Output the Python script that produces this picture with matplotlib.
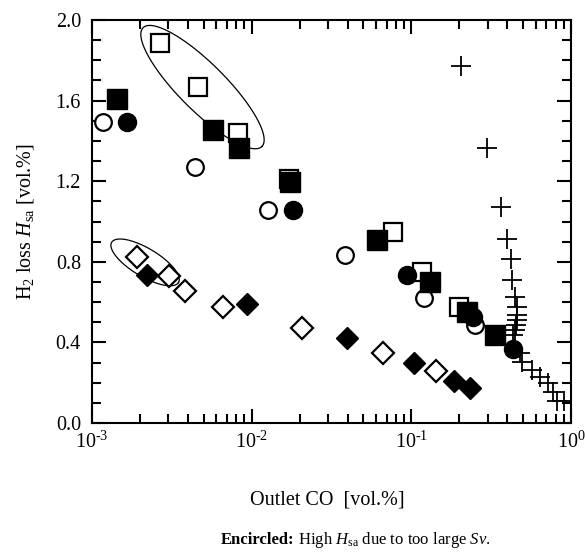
import numpy as np
import matplotlib
matplotlib.use("Agg")
import matplotlib.pyplot as plt
from matplotlib.transforms import IdentityTransform

plt.rcParams['font.family'] = ['Liberation Serif', 'DejaVu Serif']
plt.rcParams['mathtext.fontset'] = 'custom'
plt.rcParams['mathtext.rm'] = 'Liberation Serif'
plt.rcParams['mathtext.it'] = 'Liberation Serif:italic'
plt.rcParams['mathtext.bf'] = 'Liberation Serif:bold'

# ---- data ----
open_sq_x = [2.67e-3, 4.64e-3, 8.24e-3, 0.0172, 0.0764, 0.116, 0.200]
open_sq_y = [1.884, 1.666, 1.438, 1.212, 0.946, 0.751, 0.577]

fill_sq_x = [1.43e-3, 5.75e-3, 8.3e-3, 0.0174, 0.0607, 0.131, 0.222, 0.334]
fill_sq_y = [1.608, 1.454, 1.363, 1.198, 0.908, 0.701, 0.552, 0.437]

open_ci_x = [1.18e-3, 4.42e-3, 0.0127, 0.0384, 0.120, 0.251]
open_ci_y = [1.495, 1.272, 1.057, 0.834, 0.619, 0.486]

fill_ci_x = [1.65e-3, 0.0182, 0.0942, 0.244, 0.432]
fill_ci_y = [1.495, 1.057, 0.735, 0.528, 0.365]

open_di_x = [1.92e-3, 3.05e-3, 3.82e-3, 6.64e-3, 0.0208, 0.0661, 0.143]
open_di_y = [0.822, 0.730, 0.657, 0.577, 0.470, 0.346, 0.260]

fill_di_x = [2.20e-3, 9.38e-3, 0.0393, 0.104, 0.185, 0.233]
fill_di_y = [0.735, 0.589, 0.420, 0.299, 0.210, 0.172]

cross_x = [0.205, 0.296, 0.362, 0.395, 0.419, 0.429, 0.446, 0.456, 0.460, 0.456,
           0.451, 0.446, 0.433, 0.479, 0.491, 0.567, 0.639, 0.720, 0.767, 0.820, 0.905]
cross_y = [1.773, 1.366, 1.070, 0.912, 0.814, 0.710, 0.627, 0.577, 0.536, 0.511,
           0.486, 0.462, 0.437, 0.347, 0.304, 0.263, 0.230, 0.200, 0.155, 0.111, 0.111]

# encircled groups: (center x, center y) in data units
ell_centers = [(4.92e-3, 1.667), (2.15e-3, 0.797)]

xtick_vals = [1e-3, 1e-2, 1e-1, 1e0]
xtick_labels = ['$10^{\u20103}$', '$10^{\u20102}$', '$10^{\u20101}$', '$10^{0}$']
ytick_vals = [0.0, 0.4, 0.8, 1.2, 1.6, 2.0]
ytick_labels = ['0.0', '0.4', '0.8', '1.2', '1.6', '2.0']

# ---- figure ----
fig = plt.figure(figsize=(5.85, 5.59), dpi=100)
ax = fig.add_axes([92/585, 136/559, 479/585, 403/559])
ax.set_xscale('log')
ax.set_xlim(1e-3, 1)
ax.set_ylim(0, 2.0)

ax.plot(open_sq_x, open_sq_y, 's', ms=13, mfc='white', mec='black', mew=1.6, zorder=3)
ax.plot(open_ci_x, open_ci_y, 'o', ms=12, mfc='white', mec='black', mew=1.6, zorder=3)
ax.plot(open_di_x, open_di_y, 'D', ms=11, mfc='white', mec='black', mew=1.6, zorder=3)
ax.plot(fill_sq_x, fill_sq_y, 's', ms=14.5, mfc='black', mec='black', zorder=4)
ax.plot(fill_ci_x, fill_ci_y, 'o', ms=13, mfc='black', mec='black', zorder=4)
ax.plot(fill_di_x, fill_di_y, 'D', ms=11.5, mfc='black', mec='black', zorder=4)
ax.plot(cross_x, cross_y, '+', ms=14.5, mec='black', mew=1.3, zorder=5)

# ellipses (drawn in display pixels around data centres)
ell_shapes = [(168, 47, -45), (78, 28, -31)]
t = np.linspace(0, 2*np.pi, 300)
for (cx, cy), (a, b, ang) in zip(ell_centers, ell_shapes):
    px, py = ax.transData.transform((cx, cy))
    th = np.deg2rad(ang)
    X = px + a/2*np.cos(t)*np.cos(th) - b/2*np.sin(t)*np.sin(th)
    Y = py + a/2*np.cos(t)*np.sin(th) + b/2*np.sin(t)*np.cos(th)
    ax.plot(X, Y, '-', color='black', lw=0.9, transform=IdentityTransform(), zorder=2, clip_on=False)

ax.set_xticks(xtick_vals)
ax.set_xticklabels(xtick_labels)
ax.set_yticks(ytick_vals)
ax.set_yticklabels(ytick_labels)
ax.yaxis.set_minor_locator(matplotlib.ticker.MultipleLocator(0.1))
ax.xaxis.set_minor_locator(matplotlib.ticker.LogLocator(base=10, subs=np.arange(2, 10)))
ax.xaxis.set_minor_formatter(matplotlib.ticker.NullFormatter())

ax.tick_params(which='both', direction='in', top=True, right=True, width=1.5, labelsize=14.5)
ax.tick_params(which='major', length=10)
ax.tick_params(which='minor', length=6.5)
ax.tick_params(axis='x', pad=6)
ax.tick_params(axis='y', pad=8)
for s in ax.spines.values():
    s.set_linewidth(1.5)

fig.text(0.56, 0.105, 'Outlet CO  [vol.%]', ha='center', va='center', fontsize=14.5)
fig.text(0.043, 0.604, r'H$_2$ loss $H_{\rm sa}$ [vol.%]', ha='center', va='center',
         rotation=90, fontsize=14.5)

# caption line built from two pieces (bold + regular), centred at x = 356 px
renderer = fig.canvas.get_renderer()
cap_size = 12
y_base = 0.027
t1 = fig.text(0, y_base, 'Encircled:', fontweight='bold', fontsize=cap_size, ha='left', va='baseline')
t2 = fig.text(0, y_base, r' High $H_{\rm sa}$ due to too large $Sv$.', fontsize=cap_size,
              ha='left', va='baseline')
w1 = t1.get_window_extent(renderer).width
w2 = t2.get_window_extent(renderer).width
x0 = 356 - (w1 + w2) / 2
t1.set_x(x0 / 585)
t2.set_x((x0 + w1) / 585)

fig.savefig('out.png', dpi=100)
